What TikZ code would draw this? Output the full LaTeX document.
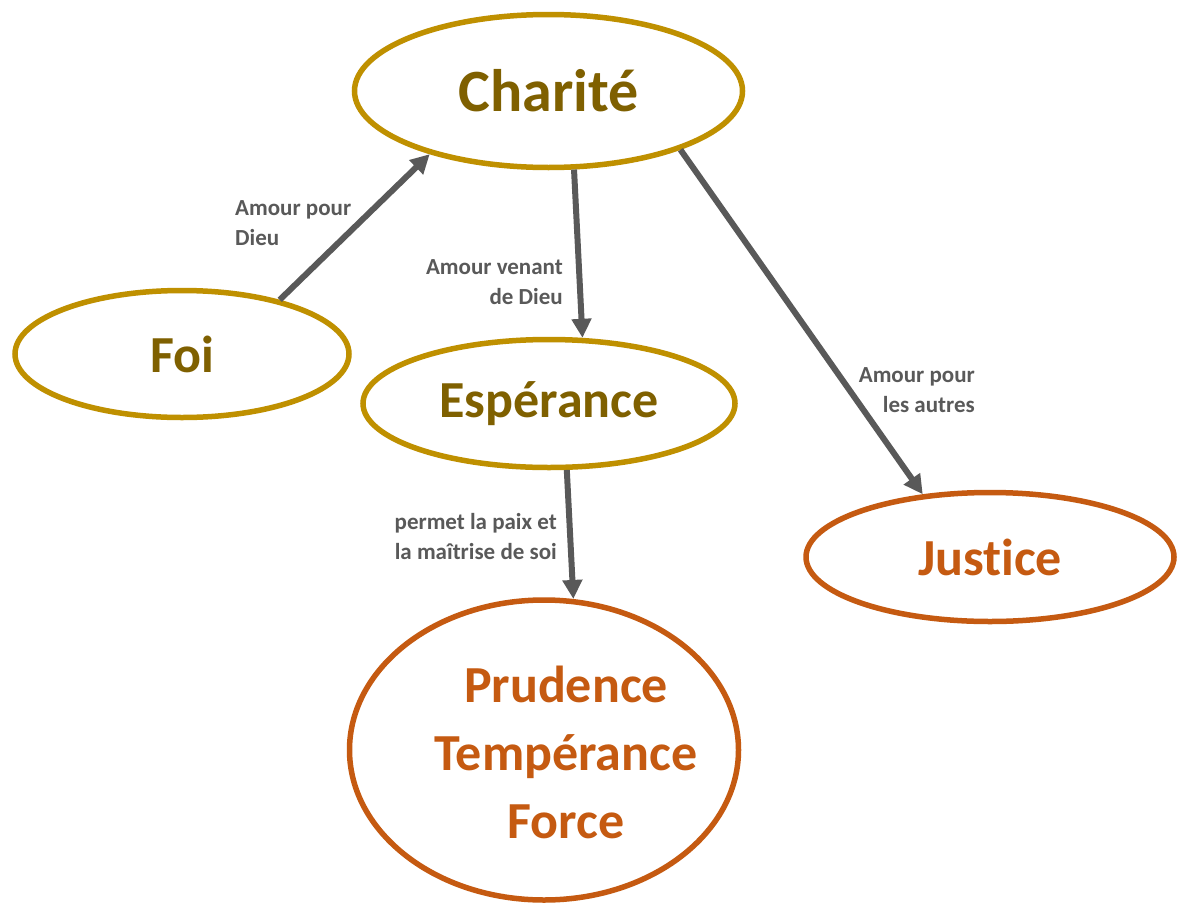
\documentclass[tikz,border=0pt]{standalone}
\usepackage{fontspec}
\setmainfont{Carlito}[Ligatures={NoCommon}]
\usetikzlibrary{arrows.meta,shapes.geometric}
\definecolor{goldline}{HTML}{BF9000}
\definecolor{goldtext}{HTML}{7F6000}
\definecolor{orangeline}{HTML}{C55A11}
\definecolor{arrowgray}{HTML}{595959}
\begin{document}
\begin{tikzpicture}[x=1pt,y=-1pt,
  virt/.style={ellipse, draw, line width=5.5pt, fill=white, inner sep=0pt, align=center,
    font=\bfseries\fontsize{52}{68}\selectfont},
  goldvirt/.style={virt, draw=goldline, text=goldtext},
  orangevirt/.style={virt, draw=orangeline, text=orangeline},
  arr/.style={draw=arrowgray, line width=6pt, -{Triangle[length=19pt,width=19pt]}, arrowgray},
  lbl/.style={inner sep=0pt, text=arrowgray, font=\bfseries\fontsize{23}{30}\selectfont}
]
\useasboundingbox (0,0) rectangle (1177,902);
\fill[white] (0,0) rectangle (1177,902);

\node[goldvirt, minimum width=388pt, minimum height=153pt,
  font=\bfseries\fontsize{60}{68}\selectfont] (charite) at (548.5,91) {Charité};
\node[goldvirt, minimum width=334pt, minimum height=127pt] (foi) at (182,354) {Foi};
\node[goldvirt, minimum width=372pt, minimum height=128pt] (esperance) at (549,403.5) {Espérance};
\node[orangevirt, minimum width=368pt, minimum height=129pt] (justice) at (990,557) {Justice};
\node[orangevirt, minimum width=389pt, minimum height=300pt] (prudence) at (544,750)
  {\makebox[0pt][c]{\hspace{44pt}\raisebox{48pt}[0pt][0pt]{\begin{tabular}[t]{@{}c@{}}Prudence\\Tempérance\\Force\end{tabular}}}};

\draw[arr] (foi.29) -- (charite.-152);
\draw[arr] (charite.-72) -- (esperance.63);
\draw[arr] (charite.-24) -- (justice.137);
\draw[arr] (esperance.-75) -- (prudence.79);

\node[lbl, anchor=west, align=left] (l1) at (235,223) {Amour pour\\Dieu};
\node[lbl, anchor=east, align=right] (l2) at (563,282) {Amour venant\\de Dieu};
\node[lbl, anchor=east, align=right] (l3) at (557,537) {permet la paix et\\la maîtrise de soi};
\node[lbl, anchor=east, align=right] (l4) at (975,390) {Amour pour\\les autres};
\end{tikzpicture}
\end{document}
